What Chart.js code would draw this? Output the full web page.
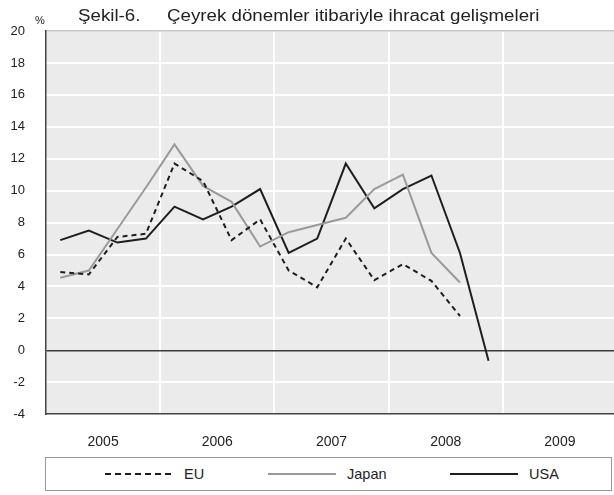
<!DOCTYPE html>
<html lang="tr">
<head>
<meta charset="UTF-8">
<title>Şekil-6. Çeyrek dönemler itibariyle ihracat gelişmeleri</title>
<script src="https://cdn.jsdelivr.net/npm/chart.js"></script>
<style>
  html, body { margin: 0; padding: 0; background: #fff; overflow: hidden; }
  body { font-family: 'Liberation Sans', Arial, sans-serif; color: #222; }
  #wrap { position: relative; width: 614px; height: 495px; overflow: hidden; }
  #chart { position: absolute; left: 0; top: 0; }
  .title { position: absolute; top: 7px; font-size: 16px; white-space: nowrap;
           transform: scaleX(1.17); transform-origin: left center; }
  #unit { position: absolute; left: 35px; top: 14px; font-size: 11px; }
  #legend { position: absolute; left: 45px; top: 457px; width: 567px; height: 34px;
            border: 1px solid #999; box-sizing: border-box; background: #fff; }
  .item { position: absolute; top: 0; height: 100%; display: flex; align-items: center; font-size: 14.5px; }
  .item svg { margin-right: 11px; }
</style>
</head>
<body>
<div id="wrap">
  <canvas id="chart" width="617" height="495"></canvas>
  <div id="unit">%</div>
  <div class="title" style="left:78px">Şekil-6.</div>
  <div class="title" style="left:167px">Çeyrek dönemler itibariyle ihracat gelişmeleri</div>
  <div id="legend"></div>
</div>

<script>
  // quarterly export growth, %, from 2005 Q1
  const years = ['2005', '2006', '2007', '2008', '2009'];
  const euValues = [4.9, 4.75, 7.1, 7.3, 11.7, 10.6, 6.9, 8.2, 5.0, 3.95, 7.0, 4.4, 5.4, 4.35, 2.15];
  const japanValues = [4.55, 5.0, 7.6, 10.2, 12.9, 10.3, 9.3, 6.5, 7.4, 7.85, 8.3, 10.1, 11.0, 6.1, 4.25];
  const usaValues = [6.9, 7.5, 6.75, 7.0, 9.0, 8.2, 9.0, 10.1, 6.1, 7.0, 11.7, 8.9, 10.1, 10.95, 6.1, -0.65];

  // each quarter sits in the middle of its slot on a 0..20 axis
  const toPoints = vals => vals.map((v, i) => ({ x: i + 0.5, y: v }));

  const plotBg = {
    id: 'plotBg',
    beforeDraw(chart) {
      const { ctx, chartArea: a } = chart;
      ctx.save();
      ctx.fillStyle = '#ebebeb';
      ctx.fillRect(a.left, a.top, a.right - a.left, a.bottom - a.top);
      ctx.restore();
    }
  };

  const clear = 'rgba(0,0,0,0)';

  const chart = new Chart(document.getElementById('chart'), {
    type: 'line',
    data: {
      datasets: [
        { label: 'EU', data: toPoints(euValues), borderColor: '#1e1e1e', borderDash: [5, 4], borderWidth: 2 },
        { label: 'Japan', data: toPoints(japanValues), borderColor: '#9a9a9a', borderWidth: 2 },
        { label: 'USA', data: toPoints(usaValues), borderColor: '#1e1e1e', borderWidth: 2 }
      ]
    },
    options: {
      responsive: false,
      animation: false,
      events: [],
      layout: { padding: { top: 31, bottom: 24, left: 0, right: 0 } },
      elements: { point: { radius: 0 }, line: { tension: 0, fill: false } },
      plugins: { legend: { display: false }, title: { display: false }, tooltip: { enabled: false } },
      scales: {
        x: {
          type: 'linear', position: 'bottom', min: 0, max: 20,
          afterBuildTicks: s => { s.ticks = years.map((y, i) => ({ value: i * 4 + 2 })); },
          ticks: {
            autoSkip: false, maxRotation: 0, padding: 20, color: '#222',
            font: { family: 'Liberation Sans', size: 14 },
            callback: v => years[(v - 2) / 4]
          },
          grid: { display: false, drawTicks: false },
          border: { color: '#444', width: 1.5 }
        },
        xGrid: {
          type: 'linear', position: 'top', min: 0, max: 20,
          ticks: { display: false, stepSize: 4 },
          grid: {
            drawTicks: false, lineWidth: 2,
            color: c => (c.tick.value > 0 && c.tick.value < 20) ? '#ffffff' : clear
          },
          border: { color: '#c8c8c8', width: 1.5 }
        },
        y: {
          min: -4, max: 20,
          ticks: { stepSize: 2, padding: 21, color: '#222', font: { family: 'Liberation Sans', size: 13 } },
          grid: {
            drawTicks: false,
            color: c => c.tick.value === 0 ? '#3a3a3a' : (c.tick.value === -4 || c.tick.value === 20 ? clear : '#ffffff'),
            lineWidth: c => c.tick.value === 0 ? 1.5 : 2
          },
          border: { color: '#444', width: 1.5 },
          afterFit: s => { s.width = 46; }
        }
      }
    },
    plugins: [plotBg]
  });

  // legend drawn as html, styled from the datasets
  const legendLeft = [59, 222, 404];
  const legend = document.getElementById('legend');
  chart.data.datasets.forEach((ds, i) => {
    const item = document.createElement('div');
    item.className = 'item';
    item.style.left = legendLeft[i] + 'px';
    const dash = ds.borderDash ? ' stroke-dasharray="6 4"' : '';
    item.innerHTML = '<svg width="68" height="4"><line x1="0" y1="2" x2="68" y2="2" stroke="' +
      ds.borderColor + '" stroke-width="2"' + dash + '/></svg><span>' + ds.label + '</span>';
    legend.appendChild(item);
  });
</script>
</body>
</html>
